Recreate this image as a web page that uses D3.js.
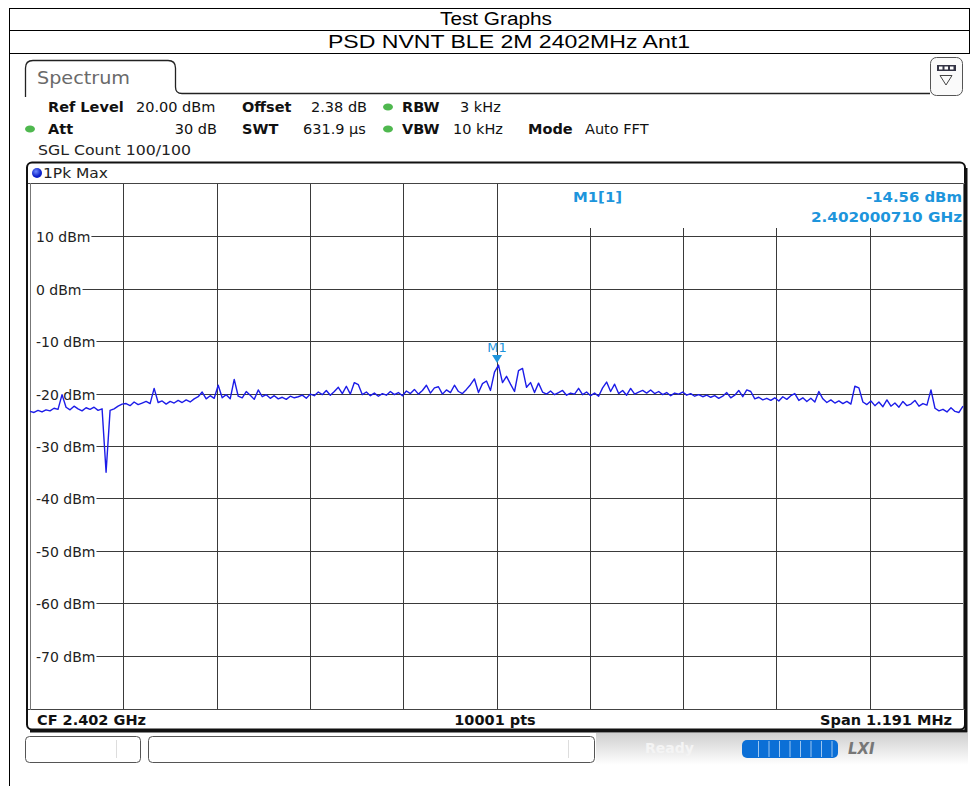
<!DOCTYPE html>
<html><head><meta charset="utf-8">
<script src="https://cdn.jsdelivr.net/npm/d3@7"></script>
<style>body{margin:0;background:#fff;overflow:hidden}</style>
</head><body>
<svg id="c" width="970" height="786"></svg>
<script>
// ---------- data ----------
const titleLines = ["Test Graphs", "PSD NVNT BLE 2M 2402MHz Ant1"];
const centerMHz = 2402.0;
const spanMHz = 1.191;
const yDomain = [-80, 20];
const yTickValues = [10, 0, -10, -20, -30, -40, -50, -60, -70];
const xDivisions = 10;
const traceDbm = [
 -23.4,-23.6,-23.2,-23.5,-23.1,-23.3,-22.8,-23.0,-20.2,
 -22.6,-23.1,-22.4,-22.9,-23.3,-22.7,-23.0,-22.6,-23.2,-22.9,
 -35.0,-23.2,
 -22.9,-22.4,-22.0,-21.9,-22.3,-21.6,-22.1,-21.8,-21.5,-21.9,
 -19.0,
 -21.7,-21.4,-22.0,-21.5,-21.8,-21.3,-21.7,-21.2,-21.6,-21.0,
 -20.6,-19.7,-21.0,-20.4,-20.9,-18.4,-20.8,-20.2,-21.0,-17.3,
 -20.5,-20.8,-19.6,-20.3,-21.1,-19.3,-20.6,-20.2,-20.9,-20.4,
 -21.0,-20.7,-21.1,-20.5,-20.8,-20.6,-20.3,-20.9,-20.1,-20.4,
 -19.7,-20.2,-19.4,-20.3,-19.6,-18.8,-20.0,-18.6,-20.1,-17.9,
 -18.3,-20.2,-19.7,-20.4,-19.9,-20.5,-20.0,-20.3,-19.6,-20.2,
 -19.8,-20.4,-19.5,-20.0,-19.2,-20.1,-19.4,-18.4,-19.9,-18.9,
 -18.7,-20.1,-19.3,-19.8,-18.4,-19.6,-20.0,-19.2,-18.3,-17.2,
 -19.8,-18.1,-17.6,-19.4,-15.9,-14.56,-17.9,-16.7,-18.2,-19.6,
 -15.6,-15.2,-18.8,-17.9,-19.8,-18.0,-19.7,-20.1,-19.5,-20.2,
 -19.8,-19.4,-20.3,-19.9,-20.1,-19.0,-20.2,-19.7,-20.4,-19.9,
 -20.5,-18.9,-17.8,-19.6,-18.2,-20.0,-19.4,-20.3,-19.0,-20.1,
 -19.7,-19.4,-19.9,-19.3,-20.0,-19.6,-20.2,-19.8,-20.4,-19.9,
 -20.1,-19.7,-20.3,-20.0,-20.5,-20.2,-20.6,-20.3,-20.7,-20.4,
 -20.9,-20.5,-19.8,-20.8,-20.3,-19.4,-20.6,-19.3,-19.6,-21.0,
 -20.7,-21.2,-20.9,-21.3,-20.8,-21.4,-20.6,-21.1,-20.4,-20.0,
 -21.3,-20.8,-21.5,-20.9,-21.6,-19.6,-21.0,-21.7,-21.2,-21.8,
 -21.4,-21.9,-21.5,-22.0,-18.6,-18.9,-21.6,-22.1,-21.4,-22.3,
 -21.6,-22.5,-21.2,-22.4,-21.8,-22.6,-21.5,-22.3,-22.0,-21.3,
 -22.4,-21.9,-22.2,-19.3,-22.8,-23.3,-23.0,-23.5,-22.7,-23.4,
 -23.6,-22.4
];
const markerInfo = { name: "M1", label: "M1[1]", freqMHz: 2402.000710, dbm: -14.56,
  levelText: "-14.56 dBm", freqText: "2.402000710 GHz" };
const headerRow1 = [
  { t: "Ref Level", x: 48, b: true }, { t: "20.00 dBm", x: 136 },
  { t: "Offset", x: 242, b: true }, { t: "2.38 dB", x: 311 },
  { t: "RBW", x: 402, b: true }, { t: "3 kHz", x: 460 }
];
const headerRow2 = [
  { t: "Att", x: 48, b: true }, { t: "30 dB", x: 217, anchor: "end" },
  { t: "SWT", x: 242, b: true }, { t: "631.9 µs", x: 303 },
  { t: "VBW", x: 402, b: true }, { t: "10 kHz", x: 453 },
  { t: "Mode", x: 528, b: true }, { t: "Auto FFT", x: 585 }
];
const footer = { left: "CF 2.402 GHz", mid: "10001 pts", right: "Span 1.191 MHz" };

// ---------- drawing ----------
const svg = d3.select("#c");
const FONT = "'DejaVu Sans', Verdana, sans-serif";

// outer report table
const tbl = svg.append("g").attr("stroke", "#000").attr("stroke-width", 1);
[8.5, 30.5, 53.5].forEach(y => tbl.append("line").attr("x1", 9).attr("x2", 970).attr("y1", y).attr("y2", y));
tbl.append("line").attr("x1", 9.5).attr("x2", 9.5).attr("y1", 8).attr("y2", 786);
tbl.append("line").attr("x1", 969.5).attr("x2", 969.5).attr("y1", 8).attr("y2", 53);
const titlePos = [{ x: 496, w: 112 }, { x: 509, w: 362 }];
titleLines.forEach((t, i) => svg.append("text").attr("x", titlePos[i].x).attr("y", 25 + i * 23)
  .attr("text-anchor", "middle").attr("font-family", "'Liberation Sans', Arial, sans-serif")
  .attr("font-size", 18).attr("fill", "#000")
  .attr("textLength", titlePos[i].w).attr("lengthAdjust", "spacingAndGlyphs").text(t));

// spectrum tab
svg.append("path").attr("d", "M25.5,97 L25.5,68 Q25.5,60.5 33,60.5 L168,60.5 Q175.5,60.5 175.5,68 L175.5,87 Q175.5,93.5 182,93.5 L930,93.5")
  .attr("fill", "none").attr("stroke", "#222").attr("stroke-width", 1.3);
svg.append("text").attr("x", 37).attr("y", 84).attr("font-family", FONT).attr("font-size", 18)
  .attr("fill", "#6a6a6a").attr("textLength", 93).attr("lengthAdjust", "spacingAndGlyphs").text("Spectrum");

// icon top-right
const ic = svg.append("g");
ic.append("rect").attr("x", 930.5).attr("y", 57.5).attr("width", 32).attr("height", 38).attr("rx", 6)
  .attr("fill", "#fafafa").attr("stroke", "#555");
ic.append("rect").attr("x", 937).attr("y", 65).attr("width", 19).attr("height", 6).attr("fill", "#334");
[939, 944.5, 950].forEach(x => ic.append("rect").attr("x", x).attr("y", 66.5).attr("width", 3.5).attr("height", 3).attr("fill", "#fff"));
ic.append("path").attr("d", "M940,75.5 L952,75.5 L946,85 Z").attr("fill", "none").attr("stroke", "#444");

// header parameters
function headerRow(items, y) {
  items.forEach(d => svg.append("text").attr("x", d.x).attr("y", y)
    .attr("font-family", FONT).attr("font-size", 14.5).attr("font-weight", d.b ? "bold" : "normal")
    .attr("text-anchor", d.anchor || "start").attr("fill", "#111").text(d.t));
}
headerRow(headerRow1, 112);
headerRow(headerRow2, 134);
svg.append("text").attr("x", 38).attr("y", 155).attr("font-family", FONT).attr("font-size", 14.5)
  .attr("fill", "#222").attr("textLength", 153).attr("lengthAdjust", "spacingAndGlyphs").text("SGL Count 100/100");
[[388, 107], [30, 129], [388, 129]].forEach(([cx, cy]) => svg.append("ellipse")
  .attr("cx", cx).attr("cy", cy).attr("rx", 5).attr("ry", 3.5).attr("fill", "#4fb84f"));

// plot frame
const L = 30, R = 963, T = 184, B = 708;
svg.append("rect").attr("x", 27).attr("y", 162.5).attr("width", 938).attr("height", 567).attr("rx", 5)
  .attr("fill", "#fff").attr("stroke", "#111").attr("stroke-width", 2);
svg.append("path").attr("d", "M966,168 L966,731 L30,731").attr("fill", "none").attr("stroke", "#111").attr("stroke-width", 3);
svg.append("line").attr("x1", 28).attr("x2", 965).attr("y1", 183.5).attr("y2", 183.5).attr("stroke", "#444");
svg.append("line").attr("x1", 28).attr("x2", 965).attr("y1", 709.5).attr("y2", 709.5).attr("stroke", "#444");
svg.append("line").attr("x1", 30.5).attr("x2", 30.5).attr("y1", 183).attr("y2", 710).attr("stroke", "#777");
svg.append("line").attr("x1", 963.5).attr("x2", 963.5).attr("y1", 183).attr("y2", 710).attr("stroke", "#777");
const dotG = svg.append("defs").append("radialGradient").attr("id", "bd").attr("cx", "40%").attr("cy", "35%");
dotG.append("stop").attr("offset", "0%").attr("stop-color", "#6f8cff");
dotG.append("stop").attr("offset", "100%").attr("stop-color", "#0b1fc9");
svg.append("circle").attr("cx", 37).attr("cy", 173).attr("r", 5).attr("fill", "url(#bd)");
svg.append("text").attr("x", 43).attr("y", 178).attr("font-family", FONT).attr("font-size", 14)
  .attr("fill", "#222").attr("textLength", 65).attr("lengthAdjust", "spacingAndGlyphs").text("1Pk Max");

// scales
const x = d3.scaleLinear().domain([centerMHz - spanMHz / 2, centerMHz + spanMHz / 2]).range([L, R]);
const y = d3.scaleLinear().domain(yDomain).range([B, T]);
const freqs = traceDbm.map((_, i) => x.domain()[0] + i * spanMHz / (traceDbm.length - 1));

// vertical grid
const xGrid = d3.range(1, xDivisions).map(k => x.domain()[0] + k * spanMHz / xDivisions);
const grid = svg.append("g").attr("stroke", "#3a3a3a").attr("stroke-width", 1);
xGrid.forEach(f => grid.append("line").attr("x1", Math.round(x(f)) + 0.5).attr("x2", Math.round(x(f)) + 0.5)
  .attr("y1", 184).attr("y2", 709));

// marker info white area
svg.append("rect").attr("x", 499).attr("y", 184).attr("width", 464).attr("height", 44).attr("fill", "#fff");

// horizontal grid + labels
yTickValues.forEach(v => {
  const yy = Math.round(y(v)) + 0.5;
  const t = svg.append("text").attr("x", 36).attr("y", yy + 5).attr("font-family", FONT).attr("font-size", 14)
    .attr("fill", "#222").text(v + " dBm");
  const w = t.node().getComputedTextLength();
  grid.append("line").attr("x1", 36 + w + 1).attr("x2", R).attr("y1", yy).attr("y2", yy);
});

// trace
svg.append("path").datum(traceDbm)
  .attr("d", d3.line().x((d, i) => x(freqs[i])).y(d => y(d)))
  .attr("fill", "none").attr("stroke", "#1c1ce8").attr("stroke-width", 1.4).attr("stroke-linejoin", "round");

// marker
const mx = x(markerInfo.freqMHz), my = y(markerInfo.dbm);
svg.append("path").attr("d", `M${mx - 5},${my - 10} L${mx + 5},${my - 10} L${mx},${my - 2} Z`).attr("fill", "#1d95dc");
svg.append("text").attr("x", mx).attr("y", my - 13).attr("text-anchor", "middle").attr("font-family", FONT)
  .attr("font-size", 13).attr("fill", "#1d95dc").text(markerInfo.name);
const mk = svg.append("g").attr("font-family", FONT).attr("font-size", 14.5).attr("font-weight", "bold").attr("fill", "#1d95dc");
mk.append("text").attr("x", 573).attr("y", 202).attr("textLength", 49).attr("lengthAdjust", "spacingAndGlyphs").text(markerInfo.label);
mk.append("text").attr("x", 866).attr("y", 202).attr("textLength", 96).attr("lengthAdjust", "spacingAndGlyphs").text(markerInfo.levelText);
mk.append("text").attr("x", 811).attr("y", 222).attr("textLength", 151).attr("lengthAdjust", "spacingAndGlyphs").text(markerInfo.freqText);

// footer
const ft = svg.append("g").attr("font-family", FONT).attr("font-size", 14.5).attr("font-weight", "bold").attr("fill", "#111");
ft.append("text").attr("x", 37).attr("y", 725).text(footer.left);
ft.append("text").attr("x", 495).attr("y", 725).attr("text-anchor", "middle").text(footer.mid);
ft.append("text").attr("x", 952).attr("y", 725).attr("text-anchor", "end").text(footer.right);

// status bar
const gr = svg.select("defs").append("linearGradient").attr("id", "sb").attr("x1", 0).attr("x2", 0).attr("y1", 0).attr("y2", 1);
gr.append("stop").attr("offset", "0%").attr("stop-color", "#cfcfcf");
gr.append("stop").attr("offset", "100%").attr("stop-color", "#ffffff");
svg.append("rect").attr("x", 596).attr("y", 733).attr("width", 372).attr("height", 32).attr("fill", "url(#sb)");
svg.append("text").attr("x", 645).attr("y", 753).attr("font-family", FONT).attr("font-size", 14).attr("font-weight", "bold")
  .attr("fill", "#f4f4f4").text("Ready");
svg.append("rect").attr("x", 25.5).attr("y", 736.5).attr("width", 115).attr("height", 26).attr("rx", 4)
  .attr("fill", "#fff").attr("stroke", "#555");
svg.append("line").attr("x1", 116.5).attr("x2", 116.5).attr("y1", 740).attr("y2", 758).attr("stroke", "#ddd");
svg.append("rect").attr("x", 148.5).attr("y", 736.5).attr("width", 446).attr("height", 26).attr("rx", 4)
  .attr("fill", "#fff").attr("stroke", "#555");
svg.append("line").attr("x1", 568.5).attr("x2", 568.5).attr("y1", 740).attr("y2", 758).attr("stroke", "#ddd");
svg.append("rect").attr("x", 742).attr("y", 740).attr("width", 96).attr("height", 18).attr("rx", 5).attr("fill", "#0b6fd6");
d3.range(1, 9).forEach(k => svg.append("line").attr("x1", 748 + k * 10.5).attr("x2", 748 + k * 10.5)
  .attr("y1", 741).attr("y2", 757).attr("stroke", "#9cc6f0").attr("stroke-width", 1));
svg.append("text").attr("x", 848).attr("y", 754).attr("font-family", FONT).attr("font-size", 15).attr("font-weight", "bold")
  .attr("font-style", "italic").attr("fill", "#777").text("LXI");
</script>
</body></html>
